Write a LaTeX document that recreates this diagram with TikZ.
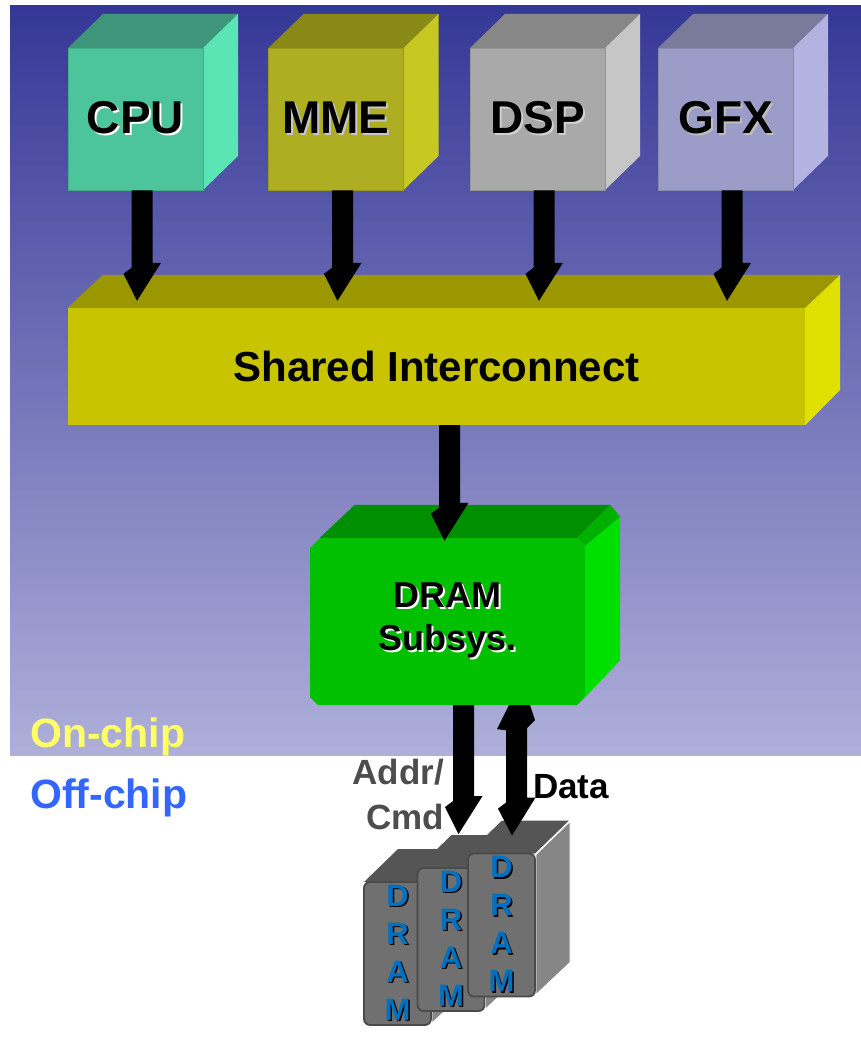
\documentclass[tikz,border=0pt]{standalone}
\usepackage{fontspec}
\setmainfont{Liberation Sans}
\usetikzlibrary{calc}

% palette
\definecolor{bgTop}{RGB}{53,55,150}
\definecolor{bgMid}{RGB}{128,128,190}
\definecolor{bgBot}{RGB}{175,175,218}
\definecolor{cpuF}{HTML}{4CC59C}\definecolor{cpuT}{HTML}{3E957A}\definecolor{cpuS}{HTML}{5BE5B5}
\definecolor{mmeF}{HTML}{AEAE22}\definecolor{mmeT}{HTML}{898918}\definecolor{mmeS}{HTML}{C8C822}
\definecolor{dspF}{HTML}{A9A9A9}\definecolor{dspT}{HTML}{878787}\definecolor{dspS}{HTML}{C6C6C6}
\definecolor{gfxF}{HTML}{9C9CC8}\definecolor{gfxT}{HTML}{7A7A9A}\definecolor{gfxS}{HTML}{B3B3E2}
\definecolor{busF}{HTML}{C8C400}\definecolor{busT}{HTML}{9A9700}\definecolor{busS}{HTML}{E0E000}
\definecolor{subF}{HTML}{00C000}\definecolor{subT}{HTML}{008F00}\definecolor{subS}{HTML}{00E000}
\definecolor{subB}{HTML}{00B000}
\definecolor{chipF}{HTML}{707070}\definecolor{chipE}{HTML}{4A4A4A}
\definecolor{chipT}{HTML}{555555}\definecolor{chipS}{HTML}{868686}
\definecolor{dramblue}{HTML}{0070C0}
\definecolor{addrgrey}{HTML}{4D4D4D}
\definecolor{onchip}{HTML}{FFFF66}
\definecolor{offchip}{HTML}{3366FF}

% text with an offset drop shadow: colour, text, offset
\newcommand\shadowed[3]{\rlap{\hspace{#3}\raisebox{-#3}{\textcolor{#1}{#2}}}#2}
\newcommand\chipletters{\shadowed{black}{D}{1.5pt}\\\shadowed{black}{R}{1.5pt}\\
  \shadowed{black}{A}{1.5pt}\\\shadowed{black}{M}{1.5pt}}

% a unit cube: name, centre x, front, top, side, shadow colour, label
\newcommand\makecube[7]{%
  \fill[#4] (#2-67.5,48) -- ++(35,-34) -- ++(135,0) -- (#2+67.5,48) -- cycle;
  \fill[#5] (#2+67.5,48) -- ++(35,-34) -- ++(0,142) -- (#2+67.5,190) -- cycle;
  \node[cubefront, fill=#3, draw=#3!88!black] (#1) at (#2,119) {\raisebox{-2.5pt}{\shadowed{#6}{#7}{2pt}}};
}
% a memory chip: name, centre x, centre y
\newcommand\makechip[3]{%
  \fill[chipT] (#2-33.5,#3-71.5) -- ++(34,-33) -- ++(67,0) -- (#2+33.5,#3-71.5) -- cycle;
  \fill[chipS, draw=white, line width=0.8pt] (#2+34.5,#3-70.5) -- ++(34,-33) -- ++(0,141) -- (#2+34.5,#3+69.5) -- cycle;
  \node[chip] (#1) at (#2,#3) {\chipletters};
}

\begin{document}
\begin{tikzpicture}[x=1pt,y=-1pt,
  cubefront/.style={minimum width=135pt, minimum height=142pt, inner sep=0pt, line width=0.8pt,
    font=\fontsize{46}{46}\selectfont\bfseries},
  busbox/.style={minimum width=737pt, minimum height=117pt, inner sep=0pt, fill=busF,
    font=\fontsize{42}{42}\selectfont\bfseries},
  subbox/.style={minimum width=275pt, minimum height=167pt, inner sep=0pt, align=center,
    font=\fontsize{36}{43}\selectfont\bfseries,
    path picture={\fill[subF]
      ([xshift=10pt]path picture bounding box.north west) --
      ([xshift=-8pt]path picture bounding box.north east) --
      ([yshift=-8pt]path picture bounding box.north east) --
      ([yshift=8pt]path picture bounding box.south east) --
      ([xshift=-8pt]path picture bounding box.south east) --
      ([xshift=8pt]path picture bounding box.south west) --
      ([yshift=8pt]path picture bounding box.south west) --
      ([yshift=-10pt]path picture bounding box.north west) -- cycle;}},
  chip/.style={minimum width=67pt, minimum height=143pt, inner sep=0pt, rounded corners=6pt,
    fill=chipF, draw=chipE, line width=1.8pt, align=center, text=dramblue,
    font=\fontsize{31}{38}\selectfont\bfseries},
  arrowblack/.style={fill=black},
  blockdown/.style={to path={let \p1=(\tikztostart), \p2=(\tikztotarget) in
    (\x1-10.5pt,\y1) -- (\x1-10.5pt,\y2+33pt) -- (\x1-18.5pt,\y2+27pt) -- (\x1-5pt,\y2)
    -- (\x1+19pt,\y2+38pt) -- (\x1+10.5pt,\y2+38pt) -- (\x1+10.5pt,\y1) -- cycle}},
  blockboth/.style={to path={let \p1=(\tikztostart), \p2=(\tikztotarget) in
    (\x1-7.5pt,\y1) -- (\x1-19.5pt,\y1-24pt) -- (\x1-10.5pt,\y1-25pt)
    -- (\x1-10.5pt,\y2+33pt) -- (\x1-18.5pt,\y2+27pt) -- (\x1-4.5pt,\y2)
    -- (\x1+19pt,\y2+38pt) -- (\x1+10.5pt,\y2+38pt) -- (\x1+10.5pt,\y1-23pt)
    -- (\x1+18.5pt,\y1-15pt) -- (\x1+13.5pt,\y1) -- cycle}},
  label/.style={inner sep=0pt, font=\fontsize{35}{45}\selectfont\bfseries}
]
\useasboundingbox (0,0) rectangle (861,1041);

% on-chip area
\shade[top color=bgTop, middle color=bgMid, bottom color=bgBot] (10,6) rectangle (861,755);

% processing units
\makecube{cpu}{135.5}{cpuF}{cpuT}{cpuS}{white}{CPU}
\makecube{mme}{336}{mmeF}{mmeT}{mmeS}{black!22}{MME}
\makecube{dsp}{537.5}{dspF}{dspT}{dspS}{black!18}{DSP}
\makecube{gfx}{725.5}{gfxF}{gfxT}{gfxS}{black!25}{GFX}

% shared interconnect
\node[busbox] (bus) at (436.5,366.5) {Shared Interconnect};
\fill[busT] (bus.north west) -- ++(35,-33) -- ++(737,0) -- (bus.north east) -- cycle;
\fill[busS] (bus.north east) -- ++(35,-33) -- ++(0,115) -- (bus.south east) -- cycle;

% requests from the units into the interconnect
\foreach \n in {cpu,mme,dsp,gfx}{
  \coordinate (\n out) at ($(\n.south)+(6.5,0)$);
  \fill[arrowblack] (\n out) to[blockdown] ($(\n out |- bus.north)+(0,-7)$);
}

% DRAM subsystem
\node[subbox] (sub) at (447.5,621.5) {\shadowed{white}{DRAM}{2pt}\\\shadowed{white}{Subsys.}{2pt}};
\fill[subT] ($(sub.north west)+(10,0)$) -- ($(sub.north west)+(45,-33)$)
  -- ($(sub.north east)+(25,-33)$) -- ($(sub.north east)+(-8,0)$) -- cycle;
\fill[subB] ($(sub.north east)+(-8,0)$) -- ($(sub.north east)+(25,-33)$)
  -- ($(sub.north east)+(35,-21)$) -- ($(sub.north east)+(0,8)$) -- cycle;
\fill[subS] ($(sub.north east)+(0,8)$) -- ($(sub.north east)+(35,-21)$)
  -- ($(sub.south east)+(35,-45)$) -- ($(sub.south east)+(0,-8)$) -- cycle;

\coordinate (busout) at ($(bus.south)+(13,0)$);
\fill[arrowblack] (busout) to[blockdown] ($(busout |- sub.north)+(0,3)$);

% off-chip memory devices
\makechip{dram1}{397.5}{953.5}
\makechip{dram2}{451}{939.5}
\makechip{dram3}{501.5}{925}

% command and data paths
\coordinate (addrout) at ($(sub.south)+(16,0)$);
\coordinate (dataout) at ($(sub.south)+(69,0)$);
\fill[arrowblack] (addrout) to[blockdown] ($(addrout |- dram2.north)+(0,-33)$);
\fill[arrowblack] (dataout) to[blockboth] ($(dataout |- dram3.north)+(0,-17)$);

% labels
\node[label, text=addrgrey, align=right, anchor=north east] (addr) at (444,759) {Addr/\\Cmd};
\node[label, anchor=base west] (data) at (533,798) {Data};
\node[label, font=\fontsize{41}{41}\selectfont\bfseries, text=onchip, anchor=base west] (on) at (30,747) {On-chip};
\node[label, font=\fontsize{41}{41}\selectfont\bfseries, text=offchip, anchor=base west] (off) at (30,808) {Off-chip};
\end{tikzpicture}
\end{document}
